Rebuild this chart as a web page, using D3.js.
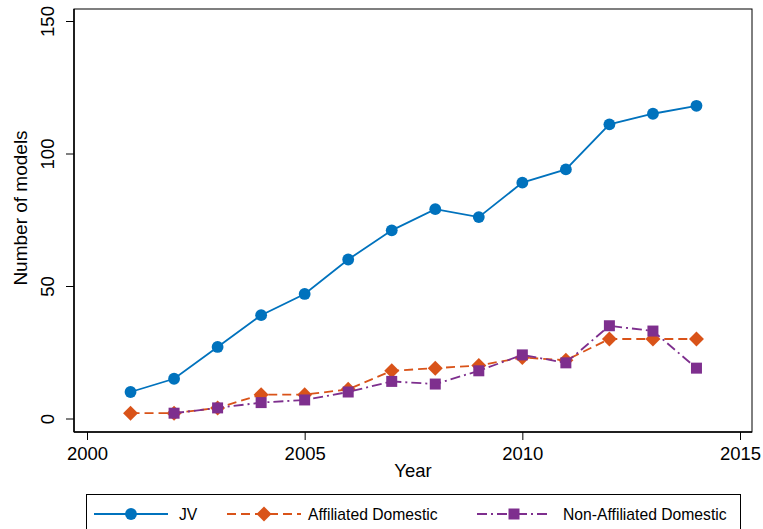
<!DOCTYPE html>
<html>
<head>
<meta charset="utf-8">
<script src="https://cdn.jsdelivr.net/npm/d3@7"></script>
<style>
  body { margin: 0; background: #fff; }
  svg { display: block; font-family: "Liberation Sans", Arial, sans-serif; }
</style>
</head>
<body>
<svg id="chart" width="763" height="529"></svg>
<script>
// Model counts per year by ownership type
const years = [2001, 2002, 2003, 2004, 2005, 2006, 2007, 2008, 2009, 2010, 2011, 2012, 2013, 2014];
const jv = [10, 15, 27, 39, 47, 60, 71, 79, 76, 89, 94, 111, 115, 118];
const affiliated = [2, 2, 4, 9, 9, 11, 18, 19, 20, 23, 22, 30, 30, 30];
const nonAffiliated = [null, 2, 4, 6, 7, 10, 14, 13, 18, 24, 21, 35, 33, 19];
const xTicks = [2000, 2005, 2010, 2015];
const yTicks = [0, 50, 100, 150];
const seriesNames = ["JV", "Affiliated Domestic", "Non-Affiliated Domestic"];

const svg = d3.select("#chart");
const frame = { left: 74, right: 752, top: 9, bottom: 432 };

const x = d3.scaleLinear().domain([2000, 2015]).range([87, 740]);
const y = d3.scaleLinear().domain([0, 150]).range([418.5, 21]);

// plot frame
svg.append("rect")
  .attr("x", frame.left).attr("y", frame.top)
  .attr("width", frame.right - frame.left).attr("height", frame.bottom - frame.top)
  .attr("fill", "none").attr("stroke", "#000").attr("stroke-width", 1);

// axes
const xAxis = d3.axisBottom(x).tickValues(xTicks).tickFormat(d3.format("d")).tickSize(8).tickSizeOuter(0);
const gx = svg.append("g").attr("transform", `translate(0,${frame.bottom})`).call(xAxis);
gx.select(".domain").attr("d", `M${frame.left},0H${frame.right}`).attr("stroke-width", 1.5);
gx.selectAll(".tick text").attr("font-size", 18.5).attr("font-family", "Liberation Sans, Arial, sans-serif").attr("fill", "#000").attr("dy", "0.9em");

const yAxis = d3.axisLeft(y).tickValues(yTicks).tickSize(8).tickSizeOuter(0);
const gy = svg.append("g").attr("transform", `translate(${frame.left},0)`).call(yAxis);
gy.select(".domain").attr("d", `M0,${frame.top}V${frame.bottom}`).attr("stroke-width", 1.5);
gy.selectAll(".tick text").remove();
gy.selectAll(".tick").append("text")
  .attr("transform", "translate(-20,0) rotate(-90)")
  .attr("text-anchor", "middle")
  .attr("font-size", 18.5).attr("fill", "#000")
  .text(d => d);

// axis titles
svg.append("text").attr("x", 413).attr("y", 477).attr("text-anchor", "middle")
  .attr("font-size", 18.5).text("Year");
svg.append("text").attr("transform", "translate(27,208) rotate(-90)").attr("text-anchor", "middle")
  .attr("font-size", 19).text("Number of models");

// diamond with equal width and height
const diamond = {
  draw(ctx, size) {
    const r = Math.sqrt(size / 2);
    ctx.moveTo(0, -r); ctx.lineTo(r, 0); ctx.lineTo(0, r); ctx.lineTo(-r, 0); ctx.closePath();
  }
};

const colors = ["#0072BD", "#D95319", "#7E2F8E"];
const dashes = [null, "9,5", "10,4,2,4"];
const shapes = [d3.symbolCircle, diamond, d3.symbolSquare];
const sizes = [110, 112, 121];
const data = [jv, affiliated, nonAffiliated];

const line = d3.line()
  .defined(d => d.v != null)
  .x(d => x(d.year)).y(d => y(d.v));

data.forEach((vals, i) => {
  const pts = years.map((yr, j) => ({ year: yr, v: vals[j] }));
  svg.append("path").datum(pts)
    .attr("d", line)
    .attr("fill", "none").attr("stroke", colors[i]).attr("stroke-width", 1.8)
    .attr("stroke-dasharray", dashes[i]);
  svg.append("g").selectAll("path")
    .data(pts.filter(d => d.v != null))
    .join("path")
    .attr("transform", d => `translate(${x(d.year)},${y(d.v)})`)
    .attr("d", d3.symbol().type(shapes[i]).size(sizes[i]))
    .attr("fill", colors[i]);
});

// legend
const legend = svg.append("g");
legend.append("rect").attr("x", 86.5).attr("y", 494.5).attr("width", 654).attr("height", 45)
  .attr("fill", "#fff").attr("stroke", "#000").attr("stroke-width", 1);
const legendX = [94, 227, 477];
const legendTextX = [179, 308, 563];
seriesNames.forEach((name, i) => {
  const lx = legendX[i], ly = 514;
  legend.append("line").attr("x1", lx).attr("x2", lx + 74).attr("y1", ly).attr("y2", ly)
    .attr("stroke", colors[i]).attr("stroke-width", 1.8).attr("stroke-dasharray", dashes[i]);
  legend.append("path").attr("transform", `translate(${lx + 37},${ly})`)
    .attr("d", d3.symbol().type(shapes[i]).size(sizes[i])).attr("fill", colors[i]);
  legend.append("text").attr("x", legendTextX[i]).attr("y", ly + 5.5).attr("font-size", 15.7).text(name);
});
</script>
</body>
</html>
